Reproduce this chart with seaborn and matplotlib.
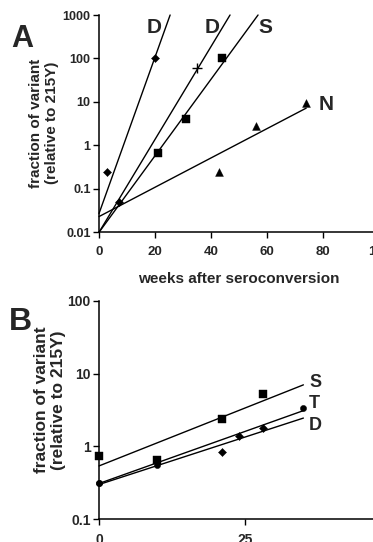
import numpy as np
import pandas as pd
import matplotlib
matplotlib.use("Agg")
import matplotlib.pyplot as plt
import seaborn as sns

# ---------------- data: panel A ----------------
a_series = ["D1", "D1", "D2", "D2", "S", "S", "S", "N", "N", "N"]
a_weeks = [3, 20, 7, 35, 21, 31, 44, 43, 56, 74]
a_frac = [0.25, 100, 0.05, 60, 0.68, 4.1, 100, 0.24, 2.8, 9.3]
a_marker = ["dia", "dia", "dia", "plus", "sq", "sq", "sq", "tri", "tri", "tri"]

a_fit_names = ["D1", "D2", "S", "N"]
a_fit_x0 = [0, 0, 0, 0]
a_fit_y0 = [0.027, 0.01, 0.01, 0.023]
a_fit_x1 = [25.4, 46.8, 56.8, 74]
a_fit_y1 = [1000, 1000, 1000, 7.2]

a_lab_text = ["D", "D", "S", "N"]
a_lab_x = [19.6, 40.4, 59.6, 81]
a_lab_y = [520, 520, 520, 8.5]

a_xticks = [0, 20, 40, 60, 80, 100]
a_yticks = [0.01, 0.1, 1, 10, 100, 1000]
a_yticklabels = ["0.01", "0.1", "1", "10", "100", "1000"]

# ---------------- data: panel B ----------------
b_series = ["S", "S", "S", "S", "T", "T", "T", "T", "T", "D", "D"]
b_weeks = [0, 10, 21, 28, 0, 10, 24, 28, 35, 0, 21]
b_frac = [0.75, 0.66, 2.4, 5.2, 0.31, 0.56, 1.4, 1.8, 3.4, 0.31, 0.85]
b_marker = ["sq", "sq", "sq", "sq", "dot", "dot", "dia", "dia", "dot", "dot", "dia"]

b_fit_names = ["S", "T", "D"]
b_fit_x0 = [0, 0, 0]
b_fit_y0 = [0.54, 0.31, 0.30]
b_fit_x1 = [35, 35, 35]
b_fit_y1 = [7.0, 3.1, 2.45]

b_lab_text = ["S", "T", "D"]
b_lab_x = [36, 36, 36]
b_lab_y = [7.6, 3.9, 1.96]

b_xticks = [0, 25, 50]
b_yticks = [0.1, 1, 10, 100]
b_yticklabels = ["0.1", "1", "10", "100"]

# ---------------- style ----------------
sns.set_style("ticks")
plt.rcParams["font.family"] = ["Liberation Sans", "DejaVu Sans"]
plt.rcParams["font.weight"] = "bold"

W, H = 373, 542
fig = plt.figure(figsize=(W / 100, H / 100), dpi=100)

markers = {"dia": "D", "sq": "s", "tri": "^", "plus": "+", "dot": "o"}
sizes = {"dia": 17, "sq": 34, "tri": 32, "plus": 44, "dot": 20}


def px_axes(left, top, right, bottom):
    return fig.add_axes([left / W, 1 - bottom / H, (right - left) / W, (bottom - top) / H])


def draw_panel(ax, ser, xs, ys, mk, fx0, fy0, fx1, fy1, names):
    pts = pd.DataFrame({"x": xs, "y": ys, "m": mk, "s": ser})
    for m, sub in pts.groupby("m"):
        sns.scatterplot(data=sub, x="x", y="y", ax=ax, marker=markers[m],
                        s=sizes[m], color="black", edgecolor="black",
                        linewidth=1.0 if m == "plus" else 0.3, clip_on=False,
                        zorder=3, legend=False)
    rows = []
    for n, a, b, c, d in zip(names, fx0, fy0, fx1, fy1):
        rows.append({"x": a, "y": b, "line": n})
        rows.append({"x": c, "y": d, "line": n})
    fits = pd.DataFrame(rows)
    sns.lineplot(data=fits, x="x", y="y", units="line", estimator=None, ax=ax,
                 color="black", linewidth=1.0, clip_on=False, legend=False)


def style_axes(ax, xlim, ylim, xticks, yticks, yticklabels, xfs, yfs):
    ax.set_yscale("log")
    ax.set_xlim(*xlim)
    ax.set_ylim(*ylim)
    ax.set_xticks(xticks)
    ax.set_xticklabels([str(t) for t in xticks], fontsize=xfs, fontweight="bold")
    ax.set_yticks(yticks)
    ax.set_yticklabels(yticklabels, fontsize=yfs, fontweight="bold")
    ax.yaxis.set_minor_locator(matplotlib.ticker.NullLocator())
    ax.tick_params(axis="both", direction="out", length=4, width=1.0, color="black", pad=2)
    ax.tick_params(axis="x", pad=6)
    sns.despine(ax=ax)
    for sp in ["left", "bottom"]:
        ax.spines[sp].set_linewidth(1.1)
        ax.spines[sp].set_color("black")
    ax.set_xlabel("")
    ax.set_ylabel("")
    ax.set_facecolor("white")


# ---------------- panel A ----------------
axA = px_axes(99, 15, 379, 232.3)
draw_panel(axA, a_series, a_weeks, a_frac, a_marker,
           a_fit_x0, a_fit_y0, a_fit_x1, a_fit_y1, a_fit_names)
style_axes(axA, (0, 100), (0.01, 1000), a_xticks, a_yticks, a_yticklabels, 9.5, 9)
for t, x, y in zip(a_lab_text, a_lab_x, a_lab_y):
    axA.text(x, y, t, fontsize=15, fontweight="bold", ha="center", va="center")

# ---------------- panel B ----------------
axB = px_axes(99, 300.7, 391, 519.3)
draw_panel(axB, b_series, b_weeks, b_frac, b_marker,
           b_fit_x0, b_fit_y0, b_fit_x1, b_fit_y1, b_fit_names)
style_axes(axB, (0, 50), (0.1, 100), b_xticks, b_yticks, b_yticklabels, 10, 10)
for t, x, y in zip(b_lab_text, b_lab_x, b_lab_y):
    axB.text(x, y, t, fontsize=13, fontweight="bold", ha="left", va="center")

# ---------------- figure texts ----------------
fig.text(22 / W, 1 - 39 / H, "A", fontsize=22, fontweight="bold", ha="center", va="center")
fig.text(20 / W, 1 - 322 / H, "B", fontsize=23, fontweight="bold", ha="center", va="center")
fig.text(44 / W, 1 - 123 / H, "fraction of variant\n(relative to 215Y)", rotation=90,
         fontsize=11, fontweight="bold", ha="center", va="center", multialignment="center")
fig.text(50 / W, 1 - 400 / H, "fraction of variant\n(relative to 215Y)", rotation=90,
         fontsize=12.5, fontweight="bold", ha="center", va="center", multialignment="center")
fig.text(239 / W, 1 - 279 / H, "weeks after seroconversion", fontsize=11,
         fontweight="bold", ha="center", va="center")

fig.savefig("out.png", dpi=100, facecolor="white")
